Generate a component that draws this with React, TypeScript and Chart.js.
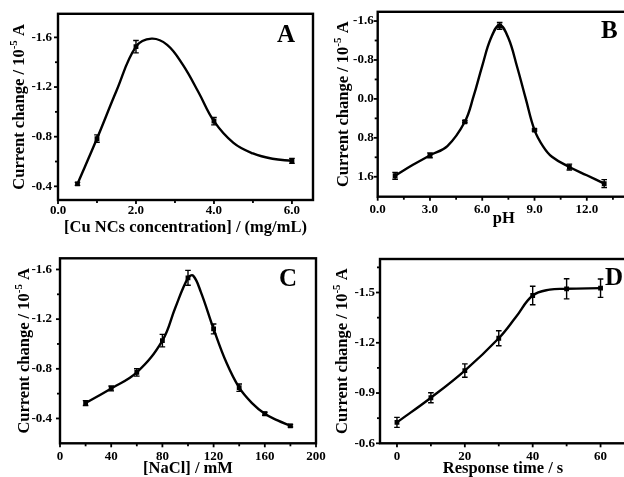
import React, { useEffect, useRef } from "react";
import { Chart, registerables } from "chart.js";
Chart.register(...registerables);

// ---------- Panel A: Cu NCs concentration ----------
const aX = [0.5, 1, 2, 4, 6];
const aY = [-0.42, -0.785, -1.525, -0.925, -0.605];
const aErr = [0.012, 0.03, 0.05, 0.03, 0.02];
const aFitX = [0.5, 1, 1.5, 2, 2.4, 2.8, 3.2, 3.6, 4, 4.5, 5, 5.5, 6];
const aFitY = [-0.42, -0.785, -1.17, -1.525, -1.59, -1.54, -1.38, -1.16, -0.925, -0.75, -0.665, -0.622, -0.605];
const aXTicks = [0, 2, 4, 6];
const aXLabels = ["0.0", "2.0", "4.0", "6.0"];
const aXMinor = [1, 3, 5];
const aYTicks = [-1.6, -1.2, -0.8, -0.4];
const aYLabels = ["-1.6", "-1.2", "-0.8", "-0.4"];
const aYMinor = [-1.4, -1.0, -0.6];

// ---------- Panel B: pH ----------
const bX = [1, 3, 5, 7, 9, 11, 13];
const bY = [1.58, 1.16, 0.47, -1.5, 0.64, 1.4, 1.74];
const bErr = [0.07, 0.05, 0.02, 0.07, 0.02, 0.06, 0.08];
const bFitX = [1, 2, 3, 4, 5, 5.5, 6, 6.5, 7, 7.5, 8, 8.5, 9, 9.5, 10, 11, 12, 13];
const bFitY = [1.58, 1.36, 1.16, 0.97, 0.47, -0.05, -0.68, -1.25, -1.52, -1.25, -0.66, 0.0, 0.64, 0.98, 1.19, 1.4, 1.57, 1.74];
const bXTicks = [0, 3, 6, 9, 12];
const bXLabels = ["0.0", "3.0", "6.0", "9.0", "12.0"];
const bXMinor = [1.5, 4.5, 7.5, 10.5, 13.5];
const bYTicks = [-1.6, -0.8, 0.0, 0.8, 1.6];
const bYLabels = ["-1.6", "-0.8", "0.0", "0.8", "1.6"];
const bYMinor = [-1.2, -0.4, 0.4, 1.2];

// ---------- Panel C: NaCl ----------
const cX = [20, 40, 60, 80, 100, 120, 140, 160, 180];
const cY = [-0.524, -0.642, -0.771, -1.027, -1.533, -1.121, -0.648, -0.438, -0.341];
const cErr = [0.02, 0.02, 0.03, 0.05, 0.06, 0.04, 0.03, 0.012, 0.01];
const cFitX = [20, 40, 60, 80, 90, 100, 104, 110, 120, 130, 140, 150, 160, 170, 180];
const cFitY = [-0.524, -0.642, -0.771, -1.027, -1.29, -1.533, -1.55, -1.42, -1.121, -0.85, -0.648, -0.524, -0.438, -0.384, -0.341];
const cXTicks = [0, 40, 80, 120, 160, 200];
const cXLabels = ["0", "40", "80", "120", "160", "200"];
const cXMinor = [20, 60, 100, 140, 180];
const cYTicks = [-1.6, -1.2, -0.8, -0.4];
const cYLabels = ["-1.6", "-1.2", "-0.8", "-0.4"];
const cYMinor = [-1.4, -1.0, -0.6];

// ---------- Panel D: response time ----------
const dX = [0, 10, 20, 30, 40, 50, 60];
const dY = [-0.725, -0.872, -1.034, -1.227, -1.482, -1.522, -1.526];
const dErr = [0.03, 0.03, 0.04, 0.045, 0.055, 0.06, 0.055];
const dFitX = [0, 10, 20, 30, 35, 40, 45, 50, 60];
const dFitY = [-0.725, -0.872, -1.034, -1.227, -1.352, -1.482, -1.517, -1.522, -1.526];
const dXTicks = [0, 20, 40, 60];
const dXLabels = ["0", "20", "40", "60"];
const dXMinor = [10, 30, 50];
const dYTicks = [-1.5, -1.2, -0.9, -0.6];
const dYLabels = ["-1.5", "-1.2", "-0.9", "-0.6"];
const dYMinor = [-1.65, -1.35, -1.05, -0.75];

const FONT = "'Liberation Serif', 'Times New Roman', 'DejaVu Serif', serif";
const TICK_SIZE = 13;
const TITLE_SIZE = 16.5;

type Panel = {
  canvas: { left: number; top: number; w: number; h: number };
  area: { l: number; t: number; r: number; b: number };
  xMin: number; xMax: number; yMin: number; yMax: number;
  x: number[]; y: number[]; err: number[]; fitX: number[]; fitY: number[];
  xTicks: number[]; xLabels: string[]; xMinor: number[];
  yTicks: number[]; yLabels: string[]; yMinor: number[];
  xTitle: string; letter: string; letterPos: [number, number];
  xTickY: number; yTickGap: number; xTitleY: number; yTitleX: number;
};

const panels: Panel[] = [
  {
    canvas: { left: 0, top: 0, w: 320, h: 240 },
    area: { l: 58, t: 13, r: 313, b: 200 },
    xMin: 0, xMax: 6.54, yMin: -1.79, yMax: -0.29,
    x: aX, y: aY, err: aErr, fitX: aFitX, fitY: aFitY,
    xTicks: aXTicks, xLabels: aXLabels, xMinor: aXMinor,
    yTicks: aYTicks, yLabels: aYLabels, yMinor: aYMinor,
    xTitle: "[Cu NCs concentration] / (mg/mL)", letter: "A", letterPos: [277, 42],
    xTickY: 211, yTickGap: 6, xTitleY: 228, yTitleX: 20,
  },
  {
    canvas: { left: 318, top: 0, w: 322, h: 240 },
    area: { l: 377.7, t: 11.7, r: 630, b: 196.7 },
    xMin: 0, xMax: 14.48, yMin: -1.79, yMax: 2.01,
    x: bX, y: bY, err: bErr, fitX: bFitX, fitY: bFitY,
    xTicks: bXTicks, xLabels: bXLabels, xMinor: bXMinor,
    yTicks: bYTicks, yLabels: bYLabels, yMinor: bYMinor,
    xTitle: "pH", letter: "B", letterPos: [601, 38],
    xTickY: 210, yTickGap: 4, xTitleY: 219, yTitleX: 344,
  },
  {
    canvas: { left: 0, top: 240, w: 332, h: 240 },
    area: { l: 60, t: 258.3, r: 316, b: 443.3 },
    xMin: 0, xMax: 200, yMin: -1.69, yMax: -0.2,
    x: cX, y: cY, err: cErr, fitX: cFitX, fitY: cFitY,
    xTicks: cXTicks, xLabels: cXLabels, xMinor: cXMinor,
    yTicks: cYTicks, yLabels: cYLabels, yMinor: cYMinor,
    xTitle: "[NaCl] / mM", letter: "C", letterPos: [279, 286],
    xTickY: 457, yTickGap: 8, xTitleY: 469, yTitleX: 25,
  },
  {
    canvas: { left: 318, top: 240, w: 322, h: 240 },
    area: { l: 380, t: 259, r: 626, b: 443.3 },
    xMin: -5, xMax: 67.5, yMin: -1.7, yMax: -0.6,
    x: dX, y: dY, err: dErr, fitX: dFitX, fitY: dFitY,
    xTicks: dXTicks, xLabels: dXLabels, xMinor: dXMinor,
    yTicks: dYTicks, yLabels: dYLabels, yMinor: dYMinor,
    xTitle: "Response time / s", letter: "D", letterPos: [605, 285],
    xTickY: 457, yTickGap: 5, xTitleY: 469, yTitleX: 343,
  },
];

function makeConfig(p: Panel): any {
  const c = p.canvas;
  const a = p.area;
  const tickLH = TICK_SIZE * 1.2;
  const titleLH = TITLE_SIZE * 1.2;
  const deco = {
    id: "deco" + p.letter,
    afterDatasetsDraw(chart: any) {
      const ctx = chart.ctx;
      const xs = chart.scales.x;
      const ys = chart.scales.y;
      const ca = chart.chartArea;
      ctx.save();
      // error bars
      ctx.strokeStyle = "#000";
      ctx.lineWidth = 1.4;
      p.x.forEach((xv, i) => {
        const px = xs.getPixelForValue(xv);
        const y1 = ys.getPixelForValue(p.y[i] - p.err[i]);
        const y2 = ys.getPixelForValue(p.y[i] + p.err[i]);
        ctx.beginPath();
        ctx.moveTo(px, y1);
        ctx.lineTo(px, y2);
        ctx.moveTo(px - 2.8, y1);
        ctx.lineTo(px + 2.8, y1);
        ctx.moveTo(px - 2.8, y2);
        ctx.lineTo(px + 2.8, y2);
        ctx.stroke();
      });
      // ticks (outward)
      ctx.lineWidth = 1.8;
      const xt = (v: number, len: number) => {
        const px = xs.getPixelForValue(v);
        if (px < ca.left - 0.5 || px > ca.right + 0.5) return;
        ctx.beginPath();
        ctx.moveTo(px, ca.bottom);
        ctx.lineTo(px, ca.bottom + len);
        ctx.stroke();
      };
      const yt = (v: number, len: number) => {
        const py = ys.getPixelForValue(v);
        if (py < ca.top - 0.5 || py > ca.bottom + 0.5) return;
        ctx.beginPath();
        ctx.moveTo(ca.left, py);
        ctx.lineTo(ca.left - len, py);
        ctx.stroke();
      };
      p.xTicks.forEach((v) => xt(v, 4));
      p.xMinor.forEach((v) => xt(v, 3));
      p.yTicks.forEach((v) => yt(v, 4));
      p.yMinor.forEach((v) => yt(v, 3));
      // frame
      ctx.lineWidth = 2.4;
      ctx.strokeRect(ca.left, ca.top, ca.right - ca.left, ca.bottom - ca.top);
      // panel letter
      ctx.fillStyle = "#000";
      ctx.font = `bold 25px ${FONT}`;
      ctx.textAlign = "left";
      ctx.textBaseline = "alphabetic";
      ctx.fillText(p.letter, p.letterPos[0] - c.left, p.letterPos[1] - c.top);
      // y title with superscript
      const mainFont = `bold ${TITLE_SIZE}px ${FONT}`;
      const supFont = `bold 11px ${FONT}`;
      const t1 = "Current change / 10";
      const t2 = "-5";
      const t3 = " A";
      ctx.font = mainFont;
      const w1 = ctx.measureText(t1).width;
      const w3 = ctx.measureText(t3).width;
      ctx.font = supFont;
      const w2 = ctx.measureText(t2).width;
      const total = w1 + w2 + w3;
      ctx.translate(p.yTitleX - c.left, (ca.top + ca.bottom) / 2);
      ctx.rotate(-Math.PI / 2);
      ctx.textBaseline = "middle";
      let sx = -total / 2;
      ctx.font = mainFont;
      ctx.fillText(t1, sx, 0);
      sx += w1;
      ctx.font = supFont;
      ctx.fillText(t2, sx, -6);
      sx += w2;
      ctx.font = mainFont;
      ctx.fillText(t3, sx, 0);
      ctx.restore();
    },
  };

  return {
    type: "line",
    data: {
      datasets: [
        {
          data: p.fitX.map((xv, i) => ({ x: xv, y: p.fitY[i] })),
          borderColor: "#000",
          borderWidth: 2.4,
          pointRadius: 0,
          tension: 0.4,
          fill: false,
        },
        {
          data: p.x.map((xv, i) => ({ x: xv, y: p.y[i] })),
          showLine: false,
          pointStyle: "rect",
          pointRadius: 3.4,
          backgroundColor: "#000",
          borderColor: "#000",
          borderWidth: 0,
        },
      ],
    },
    options: {
      animation: false,
      responsive: false,
      maintainAspectRatio: false,
      events: [],
      layout: {
        padding: { left: 0, top: a.t - c.top, right: c.left + c.w - a.r, bottom: 0 },
      },
      plugins: { legend: { display: false }, tooltip: { enabled: false } },
      scales: {
        x: {
          type: "linear",
          min: p.xMin,
          max: p.xMax,
          grid: { display: false, drawTicks: false },
          border: { display: false },
          afterBuildTicks: (s: any) => {
            s.ticks = p.xTicks.map((v) => ({ value: v }));
          },
          afterFit: (s: any) => {
            s.height = c.top + c.h - a.b;
          },
          ticks: {
            autoSkip: false,
            maxRotation: 0,
            color: "#000",
            font: { family: FONT, size: TICK_SIZE, weight: "bold" },
            padding: p.xTickY - a.b - tickLH / 2,
            callback: (v: number) => p.xLabels[p.xTicks.indexOf(v)],
          },
          title: {
            display: true,
            text: p.xTitle,
            color: "#000",
            font: { family: FONT, size: TITLE_SIZE, weight: "bold" },
            padding: { top: 0, bottom: c.top + c.h - p.xTitleY - titleLH / 2 },
          },
        },
        y: {
          type: "linear",
          reverse: true,
          min: p.yMin,
          max: p.yMax,
          grid: { display: false, drawTicks: false },
          border: { display: false },
          afterBuildTicks: (s: any) => {
            s.ticks = p.yTicks.map((v) => ({ value: v }));
          },
          afterFit: (s: any) => {
            s.width = a.l - c.left;
          },
          ticks: {
            autoSkip: false,
            color: "#000",
            font: { family: FONT, size: TICK_SIZE, weight: "bold" },
            padding: p.yTickGap,
            callback: (v: number) => p.yLabels[p.yTicks.indexOf(v)],
          },
          title: { display: false },
        },
      },
    },
    plugins: [deco],
  };
}

function PanelChart({ p }: { p: Panel }) {
  const ref = useRef<HTMLCanvasElement | null>(null);
  useEffect(() => {
    if (!ref.current) return;
    const chart = new Chart(ref.current, makeConfig(p));
    return () => chart.destroy();
  }, [p]);
  return (
    <canvas
      ref={ref}
      width={p.canvas.w}
      height={p.canvas.h}
      style={{
        position: "absolute",
        left: p.canvas.left,
        top: p.canvas.top,
        width: p.canvas.w,
        height: p.canvas.h,
      }}
    />
  );
}

export default function App() {
  return (
    <div
      style={{
        position: "absolute",
        left: 0,
        top: 0,
        width: 624,
        height: 477,
        overflow: "hidden",
        background: "#fff",
      }}
    >
      {panels.map((p) => (
        <PanelChart key={p.letter} p={p} />
      ))}
    </div>
  );
}
